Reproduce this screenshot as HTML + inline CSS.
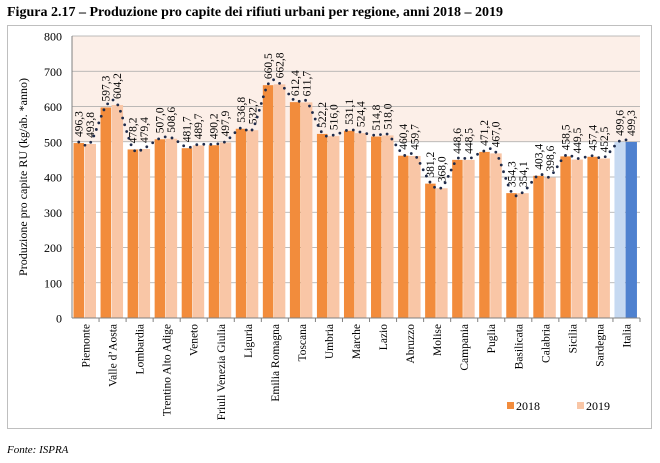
<!DOCTYPE html>
<html><head><meta charset="utf-8">
<style>
body{margin:0;background:#fff;width:660px;height:463px;overflow:hidden}
svg{display:block;font-family:"Liberation Serif",serif}
</style></head><body>
<svg id="s" width="660" height="463" viewBox="0 0 660 463">
<text x="7" y="16" font-size="14" font-weight="bold" fill="#000">Figura 2.17 – Produzione pro capite dei rifiuti urbani per regione, anni 2018 – 2019</text>
<rect x="7.5" y="25.5" width="644" height="403" fill="#fff" stroke="#bfbfbf"/>
<rect x="72" y="36" width="568" height="106" fill="#fcefe8"/>
<text x="7" y="453" font-size="11" font-style="italic">Fonte: ISPRA</text>
<text transform="translate(27,177) rotate(-90)" text-anchor="middle" font-size="12">Produzione pro capite RU (kg/ab. *anno)</text>
<rect x="507" y="402" width="7" height="7" fill="#f28c3c"/><text x="516" y="410" font-size="12">2018</text>
<rect x="577" y="402" width="7" height="7" fill="#f9c6a6"/><text x="586" y="410" font-size="12">2019</text>
<g id="g"></g>
</svg>
<script>
var cats=["Piemonte","Valle d'Aosta","Lombardia","Trentino Alto Adige","Veneto","Friuli Venezia Giulia","Liguria","Emilia Romagna","Toscana","Umbria","Marche","Lazio","Abruzzo","Molise","Campania","Puglia","Basilicata","Calabria","Sicilia","Sardegna","Italia"];
var a=[496.3,597.3,478.2,507.0,481.7,490.2,536.8,660.5,612.4,522.2,531.1,514.8,460.4,381.2,448.6,471.2,354.3,403.4,458.5,457.4,499.6];
var b=[493.8,604.2,479.4,508.6,489.7,497.9,532.7,662.8,611.7,516.0,524.4,518.0,459.7,368.0,448.5,467.0,354.1,398.6,449.5,452.5,499.3];
var x0=72,W=568/21,Y=function(v){return 318-v*0.3525};
var h='';
for(var v=100;v<=800;v+=100){h+='<line x1="72" x2="640" y1="'+Y(v)+'" y2="'+Y(v)+'" stroke="#a6a6a6" stroke-width="0.8"/>';}
for(var v=0;v<=800;v+=100){h+='<text x="62" y="'+(Y(v)+4.5)+'" font-size="12" text-anchor="end">'+v+'</text>';}
var pts=[];
for(var i=0;i<21;i++){
 var g=x0+i*W,c1=i==20?'#c6d9f1':'#f28c3c',c2=i==20?'#4f81cf':'#f9c6a6';
 var xa=g+1.5,xb=g+12.5;
 h+='<rect x="'+xa+'" y="'+Y(a[i])+'" width="10.5" height="'+(318-Y(a[i]))+'" fill="'+c1+'"/>';
 h+='<rect x="'+xb+'" y="'+Y(b[i])+'" width="11.5" height="'+(318-Y(b[i]))+'" fill="'+c2+'"/>';
 pts.push([xa+5.25,Y(a[i])-1]);pts.push([xb+5.75,Y(b[i])-1]);
 var la=a[i].toFixed(1).replace('.',','),lb=b[i].toFixed(1).replace('.',',');
 h+='<text transform="translate('+(xa+9)+','+(Y(a[i])-6)+') rotate(-90)" font-size="11.5">'+la+'</text>';
 h+='<text transform="translate('+(xb+9.5)+','+(Y(b[i])-6)+') rotate(-90)" font-size="11.5">'+lb+'</text>';
 h+='<line x1="'+(g+W)+'" x2="'+(g+W)+'" y1="318" y2="322" stroke="#808080"/>';
 h+='<text transform="translate('+(g+W/2+4)+',324) rotate(-90)" font-size="11.5" text-anchor="end">'+cats[i].replace("'","’")+'</text>';
}
h+='<line x1="72" x2="640" y1="318" y2="318" stroke="#808080"/><line x1="72" x2="72" y1="36" y2="318" stroke="#808080"/>';
var d='M'+pts[0][0]+','+pts[0][1];
for(var k=0;k<pts.length-1;k++){
 var p0=pts[Math.max(k-1,0)],p1=pts[k],p2=pts[k+1],p3=pts[Math.min(k+2,pts.length-1)];
 d+=' C'+(p1[0]+(p2[0]-p0[0])/6)+','+(p1[1]+(p2[1]-p0[1])/6)+' '+(p2[0]-(p3[0]-p1[0])/6)+','+(p2[1]-(p3[1]-p1[1])/6)+' '+p2[0]+','+p2[1];
}
h+='<path d="'+d+'" fill="none" stroke="#1f2b4a" stroke-width="2.8" stroke-linecap="round" stroke-dasharray="0 7"/>';
document.getElementById('g').innerHTML=h;
</script>
</body></html>
